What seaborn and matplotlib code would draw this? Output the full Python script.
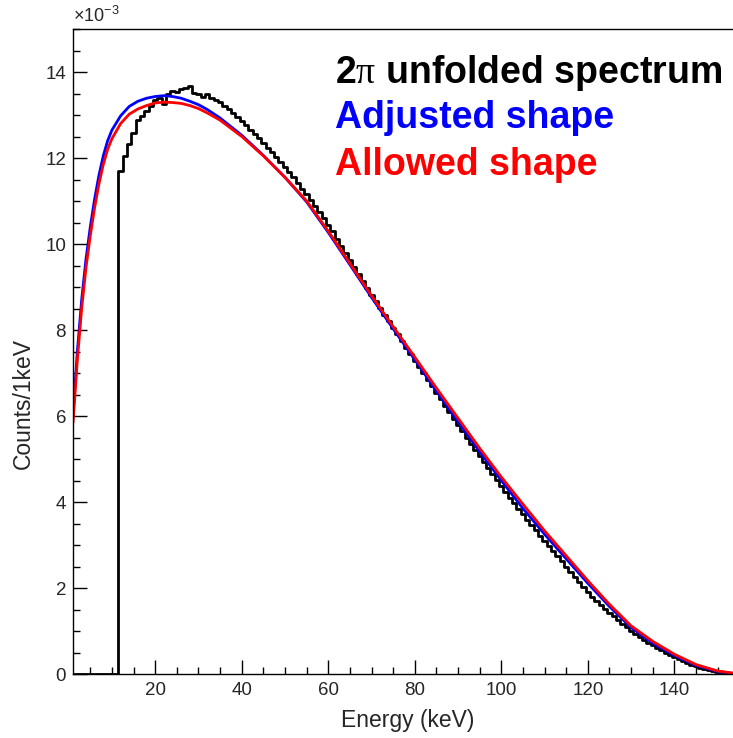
import numpy as np
import pandas as pd
import seaborn as sns
import matplotlib.pyplot as plt
from matplotlib.ticker import MultipleLocator, FuncFormatter

# unfolded spectrum, 1 keV bins (centres 1..154), in units of 1e-3 counts/keV
hist_e = list(range(1, 155))
hist_v = [0.0] * 11 + [
    11.70, 12.04, 12.32, 12.59, 12.88, 12.98, 13.09, 13.22, 13.36, 13.40,  # 12-21
    13.25, 13.48, 13.56, 13.53, 13.60, 13.62, 13.67, 13.52, 13.50, 13.43,  # 22-31
    13.48, 13.40, 13.36, 13.30, 13.22, 13.13, 13.04, 12.95, 12.86, 12.76,  # 32-41
    12.66, 12.56, 12.46, 12.35, 12.24, 12.14, 12.03, 11.91, 11.79, 11.67,  # 42-51
    11.55, 11.42, 11.29, 11.16, 11.03, 10.89, 10.75, 10.60, 10.45, 10.30,  # 52-61
    10.12, 9.96, 9.80, 9.62, 9.46, 9.30, 9.14, 8.98, 8.82, 8.67,           # 62-71
    8.51, 8.36, 8.20, 8.05, 7.90, 7.74, 7.59, 7.44, 7.29, 7.14,            # 72-81
    6.99, 6.84, 6.69, 6.54, 6.39, 6.24, 6.09, 5.94, 5.79, 5.65,            # 82-91
    5.50, 5.36, 5.21, 5.07, 4.93, 4.79, 4.65, 4.51, 4.37, 4.24,            # 92-101
    4.10, 3.97, 3.84, 3.71, 3.58, 3.46, 3.34, 3.22, 3.10, 2.98,            # 102-111
    2.86, 2.74, 2.62, 2.50, 2.38, 2.26, 2.14, 2.02, 1.91, 1.80,            # 112-121
    1.70, 1.60, 1.51, 1.42, 1.34, 1.26, 1.17, 1.09, 1.01, 0.94,            # 122-131
    0.87, 0.80, 0.73, 0.67, 0.61, 0.55, 0.50, 0.45, 0.40, 0.35,            # 132-141
    0.30, 0.26, 0.22, 0.18, 0.15, 0.12, 0.09, 0.07, 0.05, 0.04,            # 142-151
    0.03, 0.02, 0.01,                                                      # 152-154
]

shape_e = [1, 2, 3, 4, 5, 6, 7, 8, 9, 10, 12, 14, 16, 18, 20, 22, 24, 26, 28, 30,
           32, 35, 40, 45, 50, 55, 60, 65, 70, 75, 80, 85, 90, 95, 100, 105, 110,
           115, 120, 125, 130, 135, 140, 145, 150, 154]
allowed_v = [5.85, 7.30, 8.50, 9.45, 10.20, 10.85, 11.40, 11.85, 12.20, 12.45,
             12.80, 13.02, 13.14, 13.22, 13.28, 13.30, 13.29, 13.27, 13.22, 13.15,
             13.05, 12.88, 12.50, 12.05, 11.55, 11.00, 10.30, 9.55, 8.80, 8.08,
             7.37, 6.65, 5.95, 5.25, 4.58, 3.95, 3.33, 2.75, 2.17, 1.62,
             1.12, 0.76, 0.46, 0.22, 0.07, 0.015]
adjusted_v = [6.00, 7.50, 8.70, 9.65, 10.40, 11.05, 11.60, 12.05, 12.40, 12.65,
              12.98, 13.20, 13.32, 13.39, 13.43, 13.45, 13.43, 13.39, 13.32, 13.24,
              13.13, 12.93, 12.53, 12.06, 11.55, 10.98, 10.27, 9.52, 8.76, 8.03,
              7.31, 6.58, 5.87, 5.17, 4.50, 3.85, 3.25, 2.68, 2.11, 1.57,
              1.08, 0.72, 0.43, 0.20, 0.06, 0.01]

scale = 1e-3
hist_df = pd.DataFrame({'E': hist_e, 'w': np.array(hist_v) * scale})
shape_df = pd.DataFrame({'E': shape_e,
                         'adjusted': np.array(adjusted_v) * scale,
                         'allowed': np.array(allowed_v) * scale})
edges = [e + 0.5 for e in range(0, 155)]

sns.set_style('ticks')
plt.rcParams['font.family'] = ['Liberation Sans', 'DejaVu Sans']
plt.rcParams['mathtext.fontset'] = 'custom'
plt.rcParams['mathtext.rm'] = 'Liberation Sans'
plt.rcParams['mathtext.it'] = 'Liberation Sans:italic'
plt.rcParams['mathtext.sf'] = 'Liberation Serif'

fig = plt.figure(figsize=(7.33, 7.38), dpi=100)
ax = fig.add_axes([0.0996, 0.0867, 0.903, 0.874])

sns.histplot(data=hist_df, x='E', weights='w', bins=edges, element='step', fill=False,
             color='black', linewidth=2, ax=ax)
sns.lineplot(data=shape_df, x='E', y='adjusted', color='blue', linewidth=2, ax=ax)
sns.lineplot(data=shape_df, x='E', y='allowed', color='red', linewidth=2, ax=ax)

ax.set_xlim(1, 154)
ax.set_ylim(0, 0.015)
ax.xaxis.set_major_locator(MultipleLocator(20))
ax.xaxis.set_minor_locator(MultipleLocator(5))
ax.yaxis.set_major_locator(MultipleLocator(0.002))
ax.yaxis.set_minor_locator(MultipleLocator(0.0005))
ax.yaxis.set_major_formatter(FuncFormatter(lambda v, p: f'{v / scale:.0f}'))
ax.tick_params(which='both', direction='in', labelsize=13.5, color='black')
ax.tick_params(which='major', length=10, width=1)
ax.tick_params(which='minor', length=5, width=1)
ax.tick_params(axis='x', pad=6)
ax.tick_params(axis='y', pad=5)
for s in ax.spines.values():
    s.set_color('black')
    s.set_linewidth(1)

ax.set_xlabel('Energy (keV)', fontsize=16.5)
ax.set_ylabel('Counts/1keV', fontsize=16.5)
ax.xaxis.set_label_coords(0.505, -0.054)
ax.yaxis.set_label_coords(-0.058, 0.42)

ax.text(0.0, 1.004, r'$\times10^{-3}$', transform=ax.transAxes, fontsize=13,
        ha='left', va='bottom')

ax.text(0.396, 0.916, r'2$\mathsf{\pi}$ unfolded spectrum', transform=ax.transAxes,
        fontsize=27, fontweight='bold', color='black', va='baseline')
ax.text(0.396, 0.847, 'Adjusted shape', transform=ax.transAxes,
        fontsize=27, fontweight='bold', color='blue', va='baseline')
ax.text(0.396, 0.774, 'Allowed shape', transform=ax.transAxes,
        fontsize=27, fontweight='bold', color='red', va='baseline')

fig.savefig('out.png', dpi=100, facecolor='white')
